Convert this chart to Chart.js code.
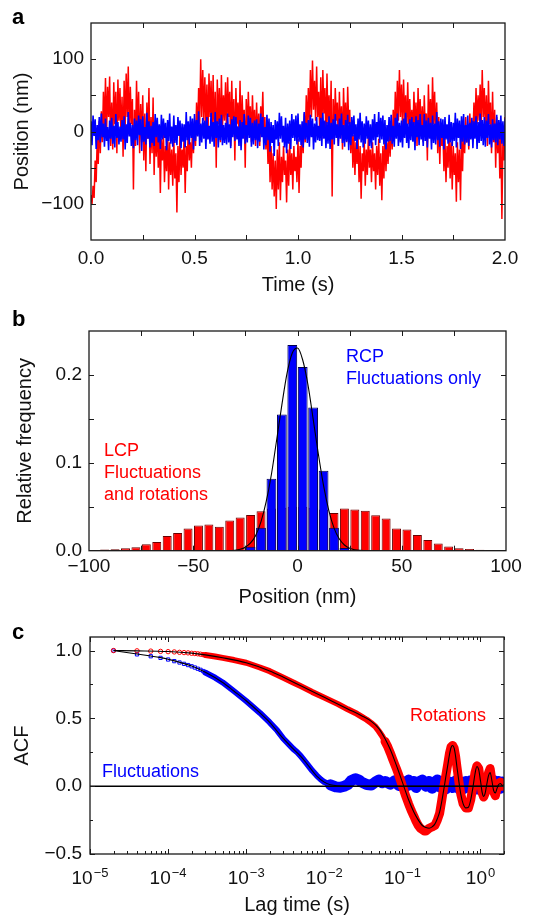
<!DOCTYPE html>
<html><head><meta charset="utf-8">
<script src="https://cdn.jsdelivr.net/npm/chart.js@4.4.1/dist/chart.umd.min.js"></script>
<style>
html,body{margin:0;padding:0;background:#fff;width:538px;height:919px;overflow:hidden;position:relative;}
canvas{position:absolute;left:0;}
.lbl{position:absolute;font-family:"Liberation Sans",Arial,Helvetica,sans-serif;white-space:nowrap;}
.pl{font-size:22px;font-weight:bold;line-height:22px;color:#000;}
.ann{font-size:18px;}
</style></head><body>
<canvas id="ca" width="538" height="300" style="top:0px"></canvas>
<canvas id="cb" width="538" height="310" style="top:300px"></canvas>
<canvas id="cc" width="538" height="309" style="top:610px"></canvas>
<div class="lbl pl" style="left:12px;top:6px">a</div>
<div class="lbl pl" style="left:12px;top:308px">b</div>
<div class="lbl pl" style="left:12px;top:621px">c</div>
<div class="lbl ann" style="left:346px;top:346px;line-height:21.7px;color:#0000ff">RCP<br>Fluctuations only</div>
<div class="lbl ann" style="left:104px;top:439px;line-height:22px;color:#ff0000">LCP<br>Fluctuations<br>and rotations</div>
<div class="lbl ann" style="left:410px;top:706px;line-height:18px;color:#ff0000">Rotations</div>
<div class="lbl ann" style="left:102px;top:762px;line-height:18px;color:#0000ff">Fluctuations</div>
<script>
// ---------------- Panel a: position traces (nm), sampled every 5 ms ----------------
const traceStep = 0.005; // s
const lcpTrace = [
-88,-100,-75,-92,-40,-70,-10,-45,15,-30,
28,-15,55,5,74,-5,62,20,76,-20,
40,-25,68,10,55,-30,72,15,60,-10,
48,-35,70,5,80,20,90,-5,62,10,
45,-80,30,-20,70,0,55,-30,38,-15,
50,-40,25,-55,40,-10,60,-45,20,-30,
47,-60,15,-35,10,-50,0,-85,-10,-40,
-5,-70,-20,-55,5,-80,-15,-60,-25,-75,
-10,-65,-30,-112,-20,-70,0,-60,-25,-50,
-5,-85,-20,-55,10,-40,-15,-50,5,-30,
15,-20,40,-5,60,10,100,20,85,15,
75,5,65,-10,80,20,70,0,78,-10,
55,-50,72,10,60,-15,78,5,50,15,
68,-5,75,20,55,-20,70,0,45,-40,
60,10,40,-10,70,-20,50,5,30,-50,
45,-5,55,10,35,-15,50,0,30,-20,
40,-10,25,-20,35,5,55,-15,20,-25,
10,-45,-5,-70,-20,-80,-30,-90,-40,-107,
-25,-80,-15,-95,-35,-70,-20,-60,-40,-98,
-25,-75,-15,-60,-30,-80,-20,-55,-35,-70,
-10,-85,-20,-50,10,-30,25,-15,50,0,
60,10,85,20,98,30,70,15,90,20,
55,0,75,-10,85,25,60,-15,80,10,
50,-5,70,-90,45,-10,60,15,40,-20,
55,0,35,-25,60,5,40,-15,62,10,
30,-30,15,-50,-5,-60,-15,-45,-10,-70,
-20,-93,-30,-55,-10,-75,-25,-60,-5,-50,
-25,-70,-15,-55,-30,-80,-20,-60,-10,-75,
-30,-95,-20,-65,-5,-55,-15,-45,0,-35,
10,-25,30,-10,55,0,70,15,85,20,
65,5,72,15,50,-5,68,10,45,0,
30,-10,55,5,40,-20,60,10,45,-5,
35,-15,50,0,25,-40,65,5,45,-10,
75,10,55,-10,40,-30,20,-45,10,-20,
0,-55,-10,-70,-20,-50,5,-65,-15,-80,
-20,-60,-30,-97,-15,-70,-25,-95,-10,-55,
5,-30,20,-15,10,-25,25,-5,15,-10,
40,0,60,10,50,15,65,5,85,20,
60,0,50,-20,70,10,40,-30,55,-15,
30,-50,20,-30,10,-65,0,-121,-10,-40,
20];
const rcpTrace = [
14,-19,22,-6,17,-24,9,-12,20,-15,
25,-8,11,-21,18,-13,6,-26,15,-10,
19,-17,8,-22,24,-9,13,-18,7,-14,
16,-11,21,-25,10,-16,27,-7,12,-20,
9,-23,18,-12,15,-19,22,-5,17,-27,
21,-14,6,-18,26,-10,14,-22,8,-16,
13,-20,24,-8,19,-15,10,-24,23,-11,
18,-9,12,-26,16,-13,25,-17,7,-21,
22,-16,9,-19,20,-6,15,-23,11,-14,
10,-22,27,-12,14,-18,21,-9,18,-25,
24,-13,16,-7,28,-20,11,-15,19,-10,
15,-24,20,-11,8,-17,26,-14,13,-21,
27,-9,14,-22,18,-12,23,-19,9,-16,
12,-18,25,-15,10,-23,17,-8,21,-13,
20,-11,7,-20,16,-26,13,-10,24,-17,
9,-15,22,-9,19,-21,12,-18,15,-12,
17,-23,11,-14,25,-8,20,-25,6,-19,
23,-12,18,-28,13,-16,9,-34,16,-11,
14,-20,26,-10,21,-15,8,-22,19,-30,
11,-17,15,-24,24,-9,17,-13,22,-18,
25,-14,10,-19,14,-22,27,-11,12,-16,
16,-21,23,-8,18,-25,11,-15,20,-12,
8,-13,19,-20,26,-10,15,-23,13,-17,
21,-24,12,-11,17,-18,24,-9,10,-20,
18,-10,25,-16,9,-21,16,-14,23,-26,
13,-19,20,-7,22,-13,10,-24,18,-11,
26,-15,14,-22,11,-17,21,-10,15,-20,
10,-23,17,-12,24,-19,13,-8,27,-16,
19,-11,22,-18,16,-25,9,-14,20,-13,
23,-17,8,-21,19,-10,25,-20,12,-15,
15,-22,18,-9,26,-16,11,-23,17,-12,
20,-14,13,-26,21,-8,16,-19,24,-11,
9,-20,24,-13,15,-22,19,-10,12,-25,
22,-16,11,-18,27,-12,14,-21,18,-9,
17,-25,20,-11,10,-17,23,-15,13,-20,
12,-13,26,-22,18,-9,15,-24,21,-14,
24,-18,9,-15,22,-20,12,-11,19,-23,
14,-10,21,-24,13,-16,25,-13,16,-19,
20,-21,15,-9,24,-18,10,-22,17,-12,
11,-15,23,-19,16,-11,22,-17,14,-20,
18];
const timeTickLabels = ['0.0','0.5','1.0','1.5','2.0'];
const timeTickValues = [0,0.5,1,1.5,2];
const posTickValues = [-100,0,100];

// ---------------- Panel b: histograms ----------------
const binCenters = [-97.5,-92.5,-87.5,-82.5,-77.5,-72.5,-67.5,-62.5,-57.5,-52.5,-47.5,-42.5,-37.5,-32.5,-27.5,-22.5,-17.5,-12.5,-7.5,-2.5,
2.5,7.5,12.5,17.5,22.5,27.5,32.5,37.5,42.5,47.5,52.5,57.5,62.5,67.5,72.5,77.5,82.5,87.5,92.5,97.5];
const lcpFreq = [0.0005,0.0015,0.0016,0.0027,0.004,0.0072,0.0100,0.0167,0.0200,0.0254,0.0288,0.0298,0.0273,0.0345,0.0379,0.0405,0.0450,0.048,0.049,0.050,
0.050,0.049,0.047,0.0430,0.0480,0.0470,0.0455,0.0402,0.0367,0.0254,0.0242,0.0178,0.0121,0.0083,0.0049,0.0027,0.0019,0.0011,0.0008,0.0005];
const rcpFreq = [0,0,0,0,0,0,0,0,0,0,0,0,0,0,0.0008,0.0045,0.026,0.082,0.155,0.234,
0.209,0.163,0.091,0.026,0.003,0,0,0,0,0,0,0,0,0,0,0,0,0,0,0];
const gaussX = [-100,-40,-35,-30,-27.5,-25,-22.5,-20,-17.5,-15,-12.5,-10,-7.5,-5,-2.5,0,2.5,5,7.5,10,12.5,15,17.5,20,22.5,25,30,35,40,100];
const gaussY = [0,0,0.0001,0.0006,0.0016,0.004,0.0088,0.0177,0.033,0.056,0.087,0.126,0.166,0.202,0.225,0.2306,0.217,0.189,0.150,0.110,0.074,0.046,0.026,0.0135,0.0065,0.0029,0.0004,0.0001,0,0];
const histXTickValues = [-100,-50,0,50,100];
const histYTickValues = [0,0.1,0.2];

// ---------------- Panel c: autocorrelation ----------------
const markerLag = [2e-5,4e-5,6e-5,8e-5,1e-4,1.2e-4,1.4e-4,1.6e-4,1.8e-4,2e-4,2.2e-4,2.4e-4,2.6e-4,2.8e-4,3e-4];
const rotMarkerACF = [1.000,0.998,0.996,0.994,0.992,0.990,0.987,0.985,0.983,0.980,0.978,0.976,0.973,0.970,0.967];
const flucMarkerACF = [1.000,0.972,0.958,0.946,0.934,0.922,0.912,0.902,0.893,0.884,0.875,0.866,0.858,0.849,0.840];
const rotBandLag = [3e-4,4e-4,5e-4,7e-4,1e-3,1.5e-3,2e-3,3e-3,4e-3,5e-3,7e-3,1e-2,1.5e-2,2e-2,2.5e-2,3e-2,3.5e-2,4e-2,4.5e-2,5e-2,5.5e-2,6e-2,6.5e-2,7e-2,7.5e-2,8e-2,8.5e-2,9e-2,9.5e-2,
0.10,0.11,0.12,0.13,0.14,0.15,0.16,0.17,0.18,0.19,0.20,0.22,0.24,0.26,0.28,0.30,0.32,0.34,0.36,0.38,0.40,0.42,0.44,0.46,0.48,0.50,0.53,0.56,0.60,0.65,0.70,0.75,0.80,0.85,0.90,0.95,1.00,1.05,1.10,1.15,1.20,1.27,1.33,1.40,1.47,1.55,1.62,1.70,1.80,1.90,2.00];
const rotBandACF = [0.967,0.956,0.946,0.93,0.91,0.875,0.848,0.80,0.765,0.738,0.695,0.653,0.605,0.567,0.54,0.513,0.49,0.465,0.44,0.405,0.37,0.33,0.29,0.245,0.20,0.158,0.12,0.08,0.04,
0.0,-0.07,-0.13,-0.18,-0.22,-0.26,-0.29,-0.31,-0.32,-0.33,-0.33,-0.31,-0.30,-0.29,-0.25,-0.20,-0.10,0.00,0.08,0.16,0.24,0.29,0.30,0.28,0.22,0.14,0.03,-0.06,-0.13,-0.16,-0.16,-0.10,0.00,0.10,0.15,0.13,0.04,-0.05,-0.08,-0.05,0.02,0.10,0.13,0.04,-0.04,-0.07,-0.02,0.02,0.03,0.00,0.02];
const flucBandLag = [3e-4,4e-4,5e-4,7e-4,1e-3,1.5e-3,2e-3,2.5e-3,3e-3,3.5e-3,4e-3,4.5e-3,5e-3,6e-3,7e-3,8e-3,9e-3,1e-2,1.2e-2,1.4e-2,1.6e-2,1.8e-2,2e-2,2.2e-2,2.5e-2,2.8e-2,3e-2,3.5e-2,4e-2,4.5e-2,5e-2,5.5e-2,6e-2,7e-2,8e-2,9e-2,
0.10,0.11,0.12,0.13,0.14,0.15,0.16,0.18,0.20,0.22,0.24,0.26,0.28,0.30,0.33,0.36,0.40,0.44,0.48,0.52,0.56,0.60,0.65,0.70,0.75,0.80,0.85,0.90,0.95,1.0,1.1,1.2,1.3,1.4,1.5,1.6,1.7,1.8,1.9,2.0];
const flucBandACF = [0.838,0.80,0.765,0.70,0.628,0.54,0.47,0.41,0.35,0.31,0.275,0.25,0.222,0.165,0.115,0.078,0.05,0.03,0.01,-0.005,-0.008,0.0,0.012,0.04,0.055,0.045,0.03,0.012,0.008,0.03,0.045,0.025,0.035,0.015,0.04,0.005,
0.035,-0.005,0.045,0.01,0.035,-0.01,0.03,0.045,0.0,0.035,-0.015,0.03,0.045,-0.005,0.035,-0.02,0.03,-0.01,0.04,-0.015,0.03,-0.02,0.035,-0.01,0.04,-0.015,0.03,-0.02,0.035,-0.005,0.04,-0.02,0.035,-0.015,0.04,-0.01,0.035,-0.015,0.03,0.01];
const rotFitLag = [2e-5,4e-5,1e-4,2e-4,3e-4,5e-4,1e-3,2e-3,3e-3,5e-3,1e-2,2e-2,3e-2,4e-2,5e-2,6e-2,7e-2,8e-2,9e-2,0.10,0.11,0.12,0.14,0.16,0.18,0.20,0.22,0.24,0.26,0.28,0.30,0.32,0.34,0.36,0.38,0.40,0.42,0.44,0.46,0.48,0.50,0.53,0.56,0.60,0.65,0.70,0.75,0.80,0.85,0.90,0.95,1.00,1.05,1.10,1.15,1.20,1.27,1.33,1.40,1.47,1.55,1.62,1.70,1.80,1.90,2.00];
const rotFit = [1.0,0.998,0.993,0.981,0.968,0.947,0.91,0.85,0.803,0.74,0.655,0.57,0.52,0.478,0.425,0.35,0.27,0.185,0.105,0.03,-0.04,-0.10,-0.19,-0.25,-0.29,-0.305,-0.31,-0.30,-0.28,-0.24,-0.19,-0.11,-0.02,0.07,0.15,0.23,0.285,0.30,0.28,0.22,0.14,0.03,-0.06,-0.13,-0.16,-0.155,-0.10,-0.01,0.09,0.145,0.12,0.04,-0.045,-0.075,-0.05,0.01,0.08,0.10,0.04,-0.03,-0.05,-0.02,0.01,0.02,0.005,0.01];
const flucFitLag = [2e-5,4e-5,6e-5,8e-5,1e-4,2e-4,3e-4,5e-4,7e-4,1e-3,1.5e-3,2e-3,3e-3,4e-3,5e-3,6e-3,7e-3,8e-3,1e-2,1.2e-2,1.5e-2,2e-2,2.0];
const flucFit = [1.0,0.975,0.96,0.948,0.936,0.886,0.84,0.765,0.70,0.63,0.54,0.47,0.35,0.275,0.22,0.165,0.115,0.075,0.03,0.01,0.002,0.0,0.0];
const lagTickValues = [1e-5,1e-4,1e-3,1e-2,1e-1,1];
const lagTickBase = '10';
const lagTickExponents = ['\u22125','\u22124','\u22123','\u22122','\u22121','0'];
const acfTickValues = [-0.5,0,0.5,1.0];

// ---------------- helpers ----------------
const FONT = '"Liberation Sans", Arial, Helvetica, sans-serif';
Chart.defaults.font.family = FONT;
Chart.defaults.color = '#111';
Chart.defaults.animation = false;
const minus = s => s.replace('-', '\u2212');
const pts = (xs, ys) => xs.map((x, i) => ({x: x, y: ys[i]}));

function frame(cfg) {
  return {
    id: 'frameTicks',
    afterDraw(chart) {
      const {ctx, chartArea: a, scales: {x, y}} = chart;
      ctx.save();
      ctx.strokeStyle = '#1a1a1a';
      ctx.lineWidth = 1;
      const vt = (vals, len) => vals.forEach(v => {
        const p = Math.round(x.getPixelForValue(v)) + 0.5;
        ctx.beginPath(); ctx.moveTo(p, a.bottom); ctx.lineTo(p, a.bottom - len);
        ctx.moveTo(p, a.top); ctx.lineTo(p, a.top + len); ctx.stroke();
      });
      const ht = (vals, len) => vals.forEach(v => {
        const p = Math.round(y.getPixelForValue(v)) + 0.5;
        ctx.beginPath(); ctx.moveTo(a.left, p); ctx.lineTo(a.left + len, p);
        ctx.moveTo(a.right, p); ctx.lineTo(a.right - len, p); ctx.stroke();
      });
      vt(cfg.xMajor || [], 5); vt(cfg.xMinor || [], 3);
      ht(cfg.yMajor || [], 5); ht(cfg.yMinor || [], 3);
      ctx.lineWidth = 1.3;
      ctx.strokeRect(a.left, a.top, a.right - a.left, a.bottom - a.top);
      if (cfg.powerLabels) {
        ctx.fillStyle = '#111';
        ctx.textBaseline = 'alphabetic';
        ctx.textAlign = 'left';
        const yb = a.bottom + 30.3;
        lagTickValues.forEach((v, i) => {
          ctx.font = '19px ' + FONT; const wb = ctx.measureText(lagTickBase).width;
          ctx.font = '13px ' + FONT; const we = ctx.measureText(lagTickExponents[i]).width;
          const x0 = x.getPixelForValue(v) - (wb + we + 1) / 2;
          ctx.font = '19px ' + FONT; ctx.fillText(lagTickBase, x0, yb);
          ctx.font = '13px ' + FONT; ctx.fillText(lagTickExponents[i], x0 + wb + 1, yb - 7);
        });
      }
      ctx.restore();
    }
  };
}
function xAxis(o) {
  return Object.assign({
    grid: {display: false, drawTicks: false}, border: {display: false},
    ticks: {font: {size: 19}, padding: o.pad, maxRotation: 0, autoSkip: false, callback: o.cb},
    title: {display: true, text: o.title, font: {size: 20}, padding: {top: 0, bottom: o.tpad}},
    afterBuildTicks: s => { s.ticks = o.vals.map(v => ({value: v})); },
    afterFit: s => { s.height = o.h; }
  }, o.extra);
}
function yAxis(o) {
  return Object.assign({
    grid: {display: false, drawTicks: false}, border: {display: false},
    ticks: {font: {size: 19}, padding: o.pad, autoSkip: false, callback: o.cb},
    title: {display: true, text: o.title, font: {size: 20}, padding: {top: o.tpad, bottom: 0}},
    afterBuildTicks: s => { s.ticks = o.vals.map(v => ({value: v})); },
    afterFit: s => { s.width = o.w; }
  }, o.extra);
}
const baseOpts = (pad) => ({
  responsive: false, animation: false, events: [],
  layout: {padding: pad, autoPadding: false},
  plugins: {legend: {display: false}, tooltip: {enabled: false}}
});

// ---------------- Chart a ----------------
const timeAxis = lcpTrace.map((v, i) => i * traceStep);
new Chart(document.getElementById('ca'), {
  type: 'line',
  data: {datasets: [
    {data: pts(timeAxis, lcpTrace), borderColor: '#ff0000', borderWidth: 1.5, pointRadius: 0, tension: 0, order: 2},
    {data: pts(timeAxis, rcpTrace), borderColor: '#0000ff', borderWidth: 1.6, pointRadius: 0, tension: 0, order: 1}
  ]},
  options: Object.assign(baseOpts({left: 0, right: 33, top: 23, bottom: 0}), {
    scales: {
      x: xAxis({vals: timeTickValues, cb: (v, i) => timeTickLabels[i], title: 'Time (s)', pad: 7, tpad: 3, h: 60,
               extra: {type: 'linear', min: 0, max: 2}}),
      y: yAxis({vals: posTickValues, cb: v => minus(String(v)), title: 'Position (nm)', pad: 7, tpad: 10, w: 91,
               extra: {type: 'linear', min: -150, max: 150}})
    }
  }),
  plugins: [frame({xMajor: [0.25,0.5,0.75,1,1.25,1.5,1.75], yMajor: [-100,-50,0,50,100]})]
});

// ---------------- Chart b ----------------
new Chart(document.getElementById('cb'), {
  type: 'bar',
  data: {datasets: [
    {type: 'line', data: pts(gaussX, gaussY), borderColor: '#000', borderWidth: 1.1, pointRadius: 0, cubicInterpolationMode: 'monotone', order: 1},
    {data: pts(binCenters, rcpFreq), backgroundColor: '#0000ff', borderColor: '#000050', borderWidth: 1,
     barPercentage: 0.94, categoryPercentage: 1, grouped: false, order: 2},
    {data: pts(binCenters, lcpFreq), backgroundColor: '#ff0000', borderColor: '#6a0000', borderWidth: 1,
     barPercentage: 0.86, categoryPercentage: 1, grouped: false, order: 3}
  ]},
  options: Object.assign(baseOpts({left: 0, right: 32, top: 31, bottom: 0}), {
    scales: {
      x: xAxis({vals: histXTickValues, cb: v => minus(String(v)), title: 'Position (nm)', pad: 5, tpad: 1, h: 59.3,
               extra: {type: 'linear', min: -100, max: 100, offset: false}}),
      y: yAxis({vals: histYTickValues, cb: v => v.toFixed(1), title: 'Relative frequency', pad: 7, tpad: 13, w: 89,
               extra: {type: 'linear', min: 0, max: 0.25, beginAtZero: true}})
    }
  }),
  plugins: [frame({xMajor: [-75,-50,-25,0,25,50,75], yMajor: [0.05,0.1,0.15,0.2]})]
});

// ---------------- Chart c ----------------
const lagMinor = [];
[1e-5,1e-4,1e-3,1e-2,1e-1,1].forEach(d => [2,3,4,5,6,7,8,9].forEach(m => { if (d * m <= 2) lagMinor.push(d * m); }));
new Chart(document.getElementById('cc'), {
  type: 'scatter',
  data: {datasets: [
    {data: pts(rotFitLag, rotFit), showLine: true, borderColor: '#000', borderWidth: 1.1, pointRadius: 0, cubicInterpolationMode: 'monotone', order: 0},
    {data: pts(flucFitLag, flucFit), showLine: true, borderColor: '#000', borderWidth: 1.1, pointRadius: 0, cubicInterpolationMode: 'monotone', order: 1},
    {data: pts([1e-5, 2], [0, 0]), showLine: true, borderColor: '#000', borderWidth: 1.5, pointRadius: 0, order: 2},
    {data: pts(markerLag, rotMarkerACF), showLine: false, pointStyle: 'circle', pointRadius: 2.2, pointBorderWidth: 1,
     pointBorderColor: '#ff0000', pointBackgroundColor: 'rgba(0,0,0,0)', order: 3},
    {data: pts(rotBandLag, rotBandACF), showLine: true, borderColor: '#ff0000', borderWidth: 6, pointRadius: 0,
     borderJoinStyle: 'round', borderCapStyle: 'round', order: 4,
     segment: {borderWidth: c => (c.p0.parsed.x >= 0.06 ? 9 : 6)}},
    {data: pts(markerLag, flucMarkerACF), showLine: false, pointStyle: 'rect', pointRadius: 2.3, pointBorderWidth: 1,
     pointBorderColor: '#0000ff', pointBackgroundColor: 'rgba(0,0,0,0)', order: 5},
    {data: pts(flucBandLag, flucBandACF), showLine: true, borderColor: '#0000ff', borderWidth: 6, pointRadius: 0,
     borderJoinStyle: 'round', borderCapStyle: 'round', order: 6,
     segment: {borderWidth: c => (c.p0.parsed.x >= 0.012 ? 11 : 6)}}
  ]},
  options: Object.assign(baseOpts({left: 0, right: 34, top: 27, bottom: 0}), {
    scales: {
      x: xAxis({vals: lagTickValues, cb: () => '', title: 'Lag time (s)', pad: 10, tpad: 2, h: 65,
               extra: {type: 'logarithmic', min: 1e-5, max: 2}}),
      y: yAxis({vals: acfTickValues, cb: v => minus(v.toFixed(1)), title: 'ACF', pad: 8, tpad: 10, w: 90,
               extra: {type: 'linear', min: -0.5, max: 1.1}})
    }
  }),
  plugins: [frame({xMajor: lagTickValues, xMinor: lagMinor, yMajor: [-0.5,0,0.5,1.0], yMinor: [-0.25,0.25,0.75], powerLabels: true})]
});
</script>
</body></html>
